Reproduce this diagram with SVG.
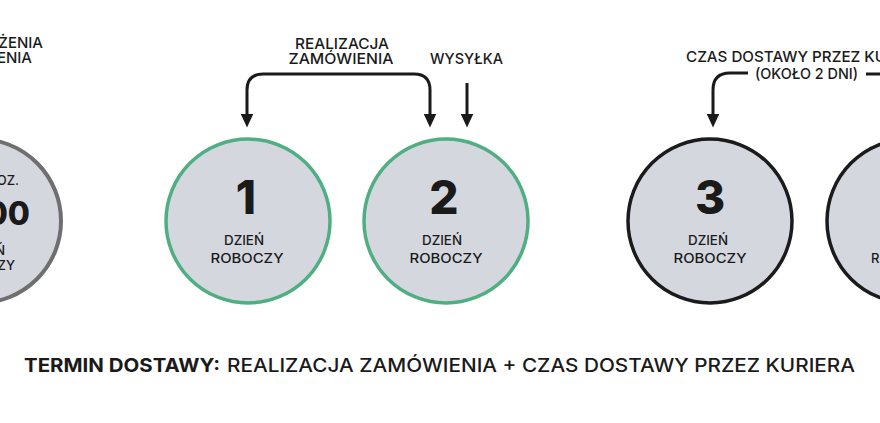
<svg xmlns="http://www.w3.org/2000/svg" width="880" height="423" viewBox="0 0 880 423">
<style>
text{font-family:Inter,"Liberation Sans",Arial,sans-serif;fill:#1a1a1a;}
.lbl{font-size:15px;font-weight:500;}
.sm{font-size:13px;font-weight:500;}
.num{font-size:46px;font-weight:800;text-anchor:middle;}
.c{text-anchor:middle;}
.e{text-anchor:end;}
.day{fill:#d4d8de;stroke-width:3.5;}
.green{stroke:#4fae82;}
.black{stroke:#1b1b1b;}
.grey{stroke:#6f6f6f;stroke-width:4;}
.conn{fill:none;stroke:#1a1a1a;stroke-width:3;}
</style>
<defs>
<marker id="ah" viewBox="0 0 14 13" markerWidth="14" markerHeight="13" markerUnits="userSpaceOnUse" refX="0.5" refY="6.5" orient="auto-start-reverse">
<path d="M0,0 L14,6.5 L0,13 Z" fill="#1a1a1a"/>
</marker>
</defs>
<rect width="880" height="423" fill="#ffffff"/>

<g id="labels">
<text class="lbl e" x="43" y="48">ŻENIA</text>
<text class="lbl e" x="32" y="63">ENIA</text>
<text class="lbl c" x="342" y="49" textLength="94" lengthAdjust="spacingAndGlyphs">REALIZACJA</text>
<text class="lbl c" x="341" y="64" textLength="105" lengthAdjust="spacingAndGlyphs">ZAMÓWIENIA</text>
<text class="lbl c" x="466.5" y="64" textLength="73" lengthAdjust="spacingAndGlyphs">WYSYŁKA</text>
<text class="lbl" x="686" y="62" textLength="200" lengthAdjust="spacingAndGlyphs">CZAS DOSTAWY PRZEZ KU</text>
<text class="lbl c" x="806.5" y="79" textLength="103" lengthAdjust="spacingAndGlyphs">(OKOŁO 2 DNI)</text>
</g>

<g id="connectors">
<path class="conn" d="M247,114 V90 Q247,74 263,74 H414 Q430,74 430,90 V114" marker-start="url(#ah)" marker-end="url(#ah)"/>
<path class="conn" d="M467,83 V114" marker-end="url(#ah)"/>
<path class="conn" d="M748,73 H730 Q713,73 713,90 V114" marker-end="url(#ah)"/>
<path class="conn" d="M866,74 H891 Q908,74 908,91 V114" marker-end="url(#ah)"/>
</g>

<g id="day0">
<circle class="day grey" cx="-21" cy="221" r="82"/>
<text class="sm e" x="19" y="185">OZ.</text>
<text class="e" x="30" y="225" style="font-size:32px;font-weight:800">00</text>
<text class="sm e" x="5" y="255">Ń</text>
<text class="sm e" x="15" y="270">ZY</text>
</g>

<g id="day1">
<circle class="day green" cx="248" cy="221" r="82"/>
<text class="num" x="246" y="214">1</text>
<text class="sm c" x="244" y="245" textLength="40" lengthAdjust="spacingAndGlyphs">DZIEŃ</text>
<text class="sm c" x="247" y="263" textLength="73" lengthAdjust="spacingAndGlyphs">ROBOCZY</text>
</g>

<g id="day2">
<circle class="day green" cx="446" cy="221" r="82"/>
<text class="num" x="444" y="214">2</text>
<text class="sm c" x="442" y="245" textLength="40" lengthAdjust="spacingAndGlyphs">DZIEŃ</text>
<text class="sm c" x="446" y="263" textLength="73" lengthAdjust="spacingAndGlyphs">ROBOCZY</text>
</g>

<g id="day3">
<circle class="day black" cx="710" cy="221" r="82"/>
<text class="num" x="710" y="214">3</text>
<text class="sm c" x="708" y="245" textLength="40" lengthAdjust="spacingAndGlyphs">DZIEŃ</text>
<text class="sm c" x="710" y="263" textLength="73" lengthAdjust="spacingAndGlyphs">ROBOCZY</text>
</g>

<g id="day4">
<circle class="day black" cx="909" cy="221" r="82"/>
<text class="sm" x="871" y="263">R</text>
</g>

<g id="footer">
<text x="24" y="372" style="font-size:19px;font-weight:700" textLength="196" lengthAdjust="spacingAndGlyphs">TERMIN DOSTAWY:</text>
<text x="227" y="372" style="font-size:19px;font-weight:500" textLength="628" lengthAdjust="spacingAndGlyphs">REALIZACJA ZAMÓWIENIA + CZAS DOSTAWY PRZEZ KURIERA</text>
</g>
</svg>
